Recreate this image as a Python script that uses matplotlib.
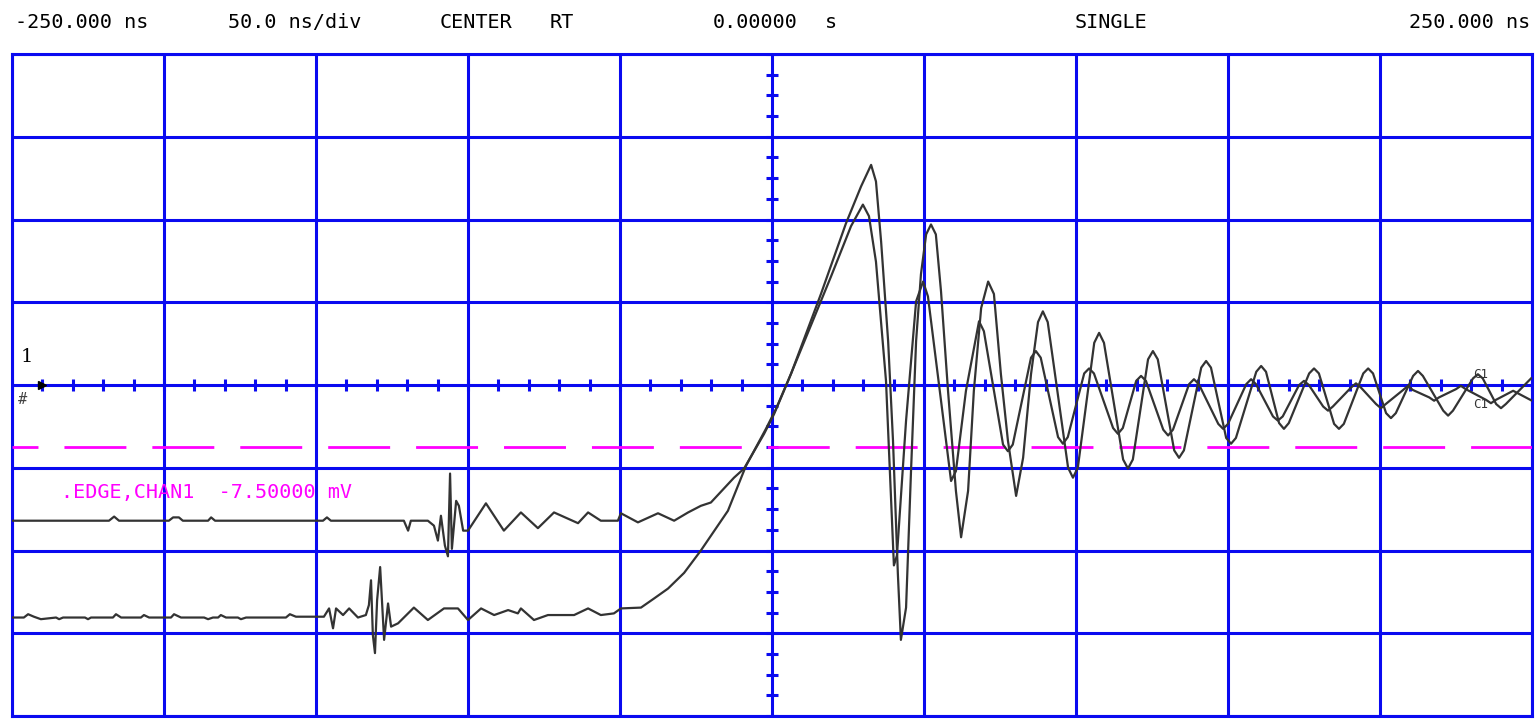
import numpy as np
import matplotlib
matplotlib.use('Agg')
from matplotlib import pyplot as plt

plt.rcParams['lines.scale_dashes'] = False

# scope settings: 50 ns/div, 10 mV/div, trigger level -7.5 mV
t_min, t_max = -250, 250
v_min, v_max = -40, 40
trig_level = -7.5

# channel 1, first acquisition (upper baseline on the left)
t_a = [-250, -218.1, -216.4, -214.8, -198.4, -197.0, -195.1, -193.8, -185.5, -184.5,
       -183.2, -147.7, -146.4, -145.1, -121.1, -119.7, -118.8, -113.2, -111.2, -109.9,
       -108.9, -107.6, -106.6, -105.9, -105.3, -103.9, -103.0, -101.6, -100.0, -94.1,
       -88.2, -82.6, -77.0, -71.7, -63.8, -60.5, -56.3, -50.7, -49.7, -44.1,
       -37.5, -32.2, -27.6, -23.4, -20.1, -12.5, -9.2, -2.6, 0.7, 5.3,
       19.4, 26.0, 29.9, 31.9, 34.2, 37.5, 40.1, 41.1, 44.1, 47.4,
       49.7, 51.3, 55.6, 58.9, 60.5, 63.8, 68.1, 69.7,
       76.0, 77.6, 79.2, 85.2, 86.8, 88.4, 94.1, 95.7, 97.3, 102.7,
       104.3, 105.9, 112.2, 113.8, 115.4, 119.8, 121.4, 123.0, 128.7, 130.3,
       131.9, 137.2, 138.8, 140.4, 146.8, 148.4, 150.0, 156.0, 157.6, 159.2,
       164.8, 166.4, 168.0, 173.4, 175.0, 176.6, 181.3, 182.9, 184.5, 190.5,
       192.1, 193.7, 198.7, 200.3, 201.9, 207.6, 209.2, 210.8, 216.2, 217.8,
       219.4, 225.0, 226.6, 228.2, 234.9, 236.5, 238.1, 243.8, 250]
v_a = [-16.4, -16.4, -15.9, -16.4, -16.4, -16.0, -16.0, -16.4, -16.4, -16.0,
       -16.4, -16.4, -16.0, -16.4, -16.4, -17.6, -16.4, -16.4, -17.0, -18.8,
       -15.8, -19.4, -20.7, -10.7, -19.8, -14.0, -14.6, -17.6, -17.6, -14.3,
       -17.6, -15.4, -17.3, -15.4, -16.7, -15.4, -16.4, -16.4, -15.5, -16.6,
       -15.5, -16.4, -15.4, -14.6, -14.2, -11.2, -10.1, -5.9, -3.5, 0.5,
       13.1, 19.2, 21.8, 20.4, 14.9, 0.5, -21.8, -20.6, -4.3, 10.1,
       12.5, 10.7, -1.9, -11.6, -10.4, -0.7, 7.7, 6.5,
       -7.2, -8.0, -7.2, 3.3, 4.1, 3.3, -6.3, -7.1, -6.3, 1.4,
       2.0, 1.4, -5.2, -5.9, -5.2, 0.5, 1.1, 0.5, -5.4, -6.1,
       -5.4, 0.1, 0.7, 0.1, -4.7, -5.3, -4.7, 0.1, 0.7, 0.1,
       -3.8, -4.3, -3.8, 0.0, 0.5, 0.0, -2.6, -3.1, -2.6, -0.3,
       0.2, -0.3, -2.3, -2.8, -2.3, -0.6, -0.1, -0.6, -1.5, -1.9,
       -1.5, -0.5, -0.1, -0.5, -1.8, -2.2, -1.8, -0.7, -1.9]

# channel 1, second acquisition (lower baseline on the left)
t_b = [-250, -246.1, -244.7, -242.8, -240.5, -235.5, -234.5, -233.2, -226.0, -225.0,
       -224.0, -216.8, -215.8, -214.1, -207.6, -206.6, -204.9, -197.7, -196.7, -194.4,
       -186.8, -185.5, -183.9, -182.2, -181.3, -179.6, -175.7, -174.7, -173.0, -159.9,
       -158.6, -156.6, -147.4, -145.7, -144.4, -143.4, -141.1, -139.1, -136.2, -133.6,
       -132.6, -131.9, -131.3, -130.6, -129.9, -128.9, -128.3, -127.6, -126.3, -125.3,
       -123.0, -117.8, -113.2, -107.9, -103.3, -100.0, -95.7, -91.4, -86.8, -83.6,
       -82.6, -78.3, -73.7, -65.1, -60.5, -56.3, -52.0, -49.7, -43.1, -38.8,
       -34.2, -28.9, -23.4, -14.5, -8.6, -2.0, 1.3, 6.3, 16.1, 24.3,
       29.3, 32.6, 34.2, 35.9, 38.2, 39.8, 41.4, 42.4, 44.1, 45.7,
       47.4, 49.0, 50.7, 52.3, 53.9, 55.6, 57.9, 60.5, 62.2, 64.5,
       66.4, 68.8, 71.1, 73.0, 75.3, 77.6, 80.3, 82.6, 85.2,
       87.5, 89.1, 90.7, 97.4, 99.0, 100.6, 106.0, 107.6, 109.2, 115.5,
       117.1, 118.7, 123.7, 125.3, 126.9, 132.3, 133.9, 135.5, 141.2, 142.8,
       144.4, 149.4, 151.0, 152.6, 159.3, 160.9, 162.5, 166.8, 168.4, 170.0,
       176.7, 178.3, 179.9, 184.9, 186.5, 188.1, 194.5, 196.1, 197.7, 202.0,
       203.6, 205.2, 210.9, 212.5, 214.1, 220.8, 222.4, 224.0, 230.6, 232.2,
       233.8, 238.2, 239.8, 241.4, 249.7]
v_b = [-28.1, -28.1, -27.7, -28.0, -28.3, -28.1, -28.3, -28.1, -28.1, -28.3,
       -28.1, -28.1, -27.7, -28.1, -28.1, -27.8, -28.1, -28.1, -27.7, -28.1,
       -28.1, -28.3, -28.1, -28.1, -27.8, -28.1, -28.1, -28.3, -28.1, -28.1,
       -27.7, -28.0, -28.0, -27.0, -29.4, -27.0, -27.8, -27.0, -28.1, -27.8,
       -26.6, -23.6, -30.2, -32.4, -26.0, -22.0, -26.0, -30.8, -26.4, -29.2,
       -28.8, -26.9, -28.4, -27.0, -27.0, -28.4, -27.0, -27.8, -27.2, -27.6,
       -27.0, -28.4, -27.8, -27.8, -27.0, -27.8, -27.6, -27.0, -26.9, -25.8,
       -24.6, -22.7, -20.0, -15.2, -9.8, -5.3, -2.9, 1.4, 11.0, 19.5,
       24.0, 26.6, 24.6, 17.3, 5.3, -6.7, -22.8, -30.8, -26.9, -10.7,
       5.3, 13.4, 18.2, 19.4, 18.2, 11.3, -0.7, -12.8, -18.4, -12.8,
       -0.7, 9.3, 12.5, 11.0, 1.3, -6.7, -13.4, -8.8, 1.3,
       7.6, 8.9, 7.6, -10.0, -11.2, -10.0, 5.1, 6.3, 5.1, -9.0,
       -10.1, -9.0, 3.1, 4.1, 3.1, -7.9, -8.8, -7.9, 2.1, 2.9,
       2.1, -6.4, -7.1, -6.4, 1.6, 2.3, 1.6, -4.6, -5.3, -4.6,
       1.4, 2.0, 1.4, -4.7, -5.3, -4.7, 1.4, 2.0, 1.4, -3.4,
       -4.0, -3.4, 1.1, 1.7, 1.1, -3.1, -3.7, -3.1, 0.8, 1.3,
       0.8, -2.3, -2.8, -2.3, 0.8]

header = [('-250.000 ns', 0.0097, 'left'), ('50.0 ns/div', 0.148, 'left'),
          ('CENTER', 0.2857, 'left'), ('RT', 0.357, 'left'),
          ('0.00000', 0.463, 'left'), ('s', 0.5357, 'left'),
          ('SINGLE', 0.698, 'left'), ('250.000 ns', 0.9935, 'right')]
trig_text = '.EDGE,CHAN1  -7.50000 mV'

blue = '#0a0af0'
pink = '#ff00ff'
trace = '#333333'

fig = plt.figure(figsize=(15.4, 7.2), dpi=100)
ax = fig.add_axes([12 / 1540, 4 / 720, 1520 / 1540, 662 / 720])
ax.set_xlim(t_min, t_max)
ax.set_ylim(v_min, v_max)

# graticule
ax.set_xticks(np.arange(t_min, t_max + 1, 50))
ax.set_yticks(np.arange(v_min, v_max + 1, 10))
ax.tick_params(length=0, labelbottom=False, labelleft=False)
ax.grid(True, color=blue, lw=2.2)
ax.set_axisbelow(True)
for s in ax.spines.values():
    s.set_color(blue)
    s.set_linewidth(2.2)

# small ticks on the centre lines
xt = np.arange(t_min, t_max + 1, 10)
yt = np.arange(v_min, v_max + 0.1, 2.5)
ax.plot(xt, np.zeros_like(xt), ls='none', marker='|', ms=9, mew=2.2, color=blue, zorder=2)
ax.plot(np.zeros_like(yt), yt, ls='none', marker='_', ms=8, mew=2.2, color=blue, zorder=2)

# trigger level
ax.axhline(trig_level, color=pink, lw=2, ls=(25.9, (44.6, 18.7)), zorder=3)

# traces
ax.plot(t_a, v_a, color=trace, lw=1.6, zorder=4)
ax.plot(t_b, v_b, color=trace, lw=1.6, zorder=4)

# markers
ax.plot([-240], [0], marker='>', ms=6, color='black', zorder=5, clip_on=False)
ax.text(-248, -1.8, '#', fontsize=11, color='#444444', family='DejaVu Sans Mono',
        va='center', ha='left', zorder=5)
ax.text(-247, 3.4, '1', fontsize=14, color='black', family='DejaVu Serif',
        va='center', ha='left')
ax.text(230.5, 1.3, 'C1', fontsize=9, color='#333333', family='DejaVu Sans Mono', va='center')
ax.text(230.5, -2.4, 'C1', fontsize=9, color='#333333', family='DejaVu Sans Mono', va='center')

ax.text(-234, -13.0, trig_text, fontsize=14.5, color=pink, family='DejaVu Sans Mono',
        va='center', ha='left', zorder=5)

for txt, xpos, ha in header:
    fig.text(xpos, 0.969, txt, fontsize=14.5, family='DejaVu Sans Mono', ha=ha, va='center')

fig.savefig('out.png', dpi=100)
